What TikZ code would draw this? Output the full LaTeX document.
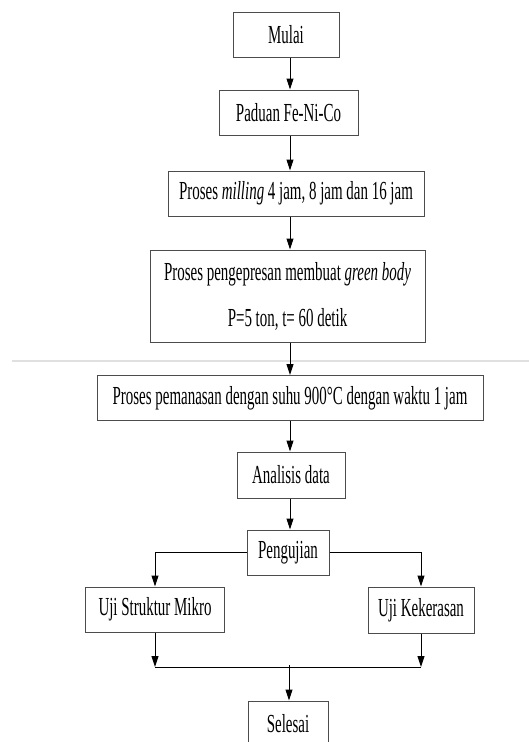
\documentclass[tikz,border=0pt]{standalone}
\usepackage{fontspec}
\setmainfont{Liberation Serif}[FakeStretch=0.575]
\usetikzlibrary{arrows.meta}

\begin{document}
\begin{tikzpicture}[x=1pt,y=-1pt,
  flowbox/.style={draw=black!70,line width=1pt,inner sep=0pt,align=center,
    minimum height=45pt,font=\fontsize{26}{31}\selectfont},
  flowarr/.style={-{Triangle[length=11pt,width=7pt]},line width=1pt}
]
  \useasboundingbox (0,0) rectangle (529,742);
  % page edge of the scan
  \draw[black!12,line width=1.5pt] (12,361) -- (529,361);
  % main column
  \node[flowbox,minimum width=106pt] (mulai) at (286,34.5) {Mulai};
  \node[flowbox,minimum width=139pt] (paduan) at (288.5,112.5) {Paduan Fe-Ni-Co};
  \node[flowbox,minimum width=256pt] (milling) at (296,193.5) {Proses \textit{milling} 4 jam, 8 jam dan 16 jam};
  \node[flowbox,minimum width=275pt,minimum height=92pt] (tekan) at (287.5,296) {
    Proses pengepresan membuat \textit{green body}\\[15pt]
    P=5 ton, t= 60 detik};
  \node[flowbox,minimum width=386pt] (panas) at (290,398) {Proses pemanasan dengan suhu 900°C dengan waktu 1 jam};
  \node[flowbox,minimum width=108pt,minimum height=46pt] (analisis) at (291,475) {Analisis data};
  \node[flowbox,minimum width=82pt] (uji) at (288,552.5) {Pengujian};
  % branches
  \node[flowbox,minimum width=139pt] (mikro) at (155,609.5) {Uji Struktur Mikro};
  \node[flowbox,minimum width=106pt,minimum height=46pt] (keras) at (421,610) {Uji Kekerasan};
  \node[flowbox,minimum width=80pt,minimum height=46pt] (selesai) at (288,724) {Selesai};
  \coordinate (ax) at (290,0);
  \coordinate (join) at (289,667);
  % connectors
  \draw[flowarr] (ax |- mulai.south) -- (ax |- paduan.north);
  \draw[flowarr] (ax |- paduan.south) -- (ax |- milling.north);
  \draw[flowarr] (ax |- milling.south) -- (ax |- tekan.north);
  \draw[flowarr] (ax |- tekan.south) -- (ax |- panas.north);
  \draw[flowarr] (ax |- panas.south) -- (ax |- analisis.north);
  \draw[flowarr] (ax |- analisis.south) -- (ax |- uji.north);
  \draw[flowarr] (uji.west) -| (mikro.north);
  \draw[flowarr] (uji.east) -| (keras.north);
  \draw[flowarr] (mikro.south) -- (mikro.south |- join);
  \draw[flowarr] (keras.south) -- (keras.south |- join);
  \draw[line width=1pt] (mikro.south |- join) -- (keras.south |- join);
  \draw[flowarr] ([yshift=2pt]join) -- (join |- selesai.north);
\end{tikzpicture}
\end{document}
